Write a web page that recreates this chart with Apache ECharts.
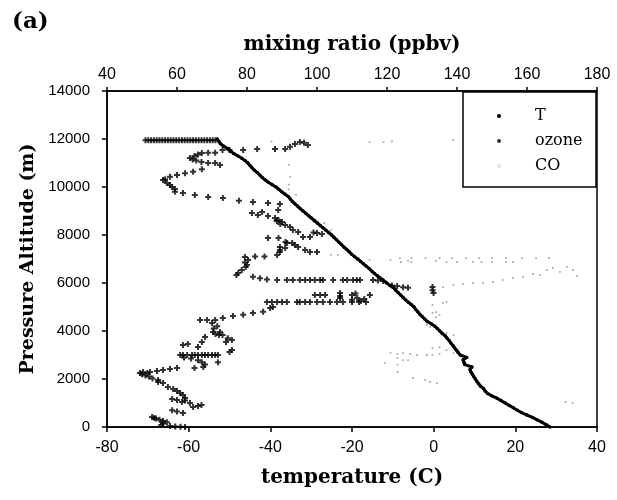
<!DOCTYPE html>
<html><head><meta charset="utf-8">
<script src="https://cdn.jsdelivr.net/npm/echarts@6/dist/echarts.min.js"></script>
<style>html,body{margin:0;padding:0;background:#fff}#c{width:617px;height:500px}</style>
</head><body><div id="c"></div>
<script>
// Tick labels / axis ranges
const tempTicks = [-80, -60, -40, -20, 0, 20, 40];
const mixTicks = [40, 60, 80, 100, 120, 140, 160, 180];
const altTicks = [0, 2000, 4000, 6000, 8000, 10000, 12000, 14000];

// Temperature profile: [temperature C, altitude m]
const tempProfile = [
  [28.5,0],[27.5,100],[26.5,200],[25.3,300],[24.2,400],[22.8,500],[21.5,600],[20.5,700],[19.5,800],[18.5,900],
  [17.5,1000],[16.5,1100],[15.5,1200],[14.2,1300],[13.2,1400],[12.6,1500],[12.2,1600],[11.5,1700],[11,1800],[10.6,1900],
  [10.2,2000],[9.8,2100],[9.5,2200],[9.1,2300],[8.9,2400],[9.4,2500],[7.6,2600],[7.4,2700],[7.2,2800],[8.1,2900],
  [6.5,3000],[6,3100],[5.6,3200],[5.1,3300],[4.7,3400],[4.2,3500],[3.8,3600],[3.3,3700],[2.8,3800],[2.1,3900],
  [1.5,4000],[0.9,4100],[0.3,4200],[-0.6,4300],[-1.6,4400],[-2.2,4500],[-2.8,4600],[-3.4,4700],[-3.9,4800],[-4.4,4900],
  [-4.8,5000],[-5.5,5100],[-6.2,5200],[-6.9,5300],[-7.5,5400],[-8.1,5500],[-8.7,5600],[-9.3,5700],[-9.8,5800],[-10.7,5900],
  [-11.5,6000],[-12.3,6100],[-13,6200],[-13.8,6300],[-14.5,6400],[-15.2,6500],[-15.8,6600],[-16.5,6700],[-17.2,6800],[-17.9,6900],
  [-18.6,7000],[-19.4,7100],[-20.1,7200],[-20.7,7300],[-21.3,7400],[-22,7500],[-22.6,7600],[-23.2,7700],[-23.8,7800],[-24.4,7900],
  [-25,8000],[-25.7,8100],[-26.4,8200],[-27.1,8300],[-27.8,8400],[-28.5,8500],[-29.2,8600],[-29.9,8700],[-30.6,8800],[-31.3,8900],
  [-32,9000],[-32.7,9100],[-33.3,9200],[-34,9300],[-34.6,9400],[-35.1,9500],[-35.6,9600],[-36.4,9700],[-37.2,9800],[-37.9,9900],
  [-38.6,10000],[-39.6,10100],[-40.5,10200],[-41.3,10300],[-42,10400],[-42.6,10500],[-43.2,10600],[-43.9,10700],[-44.5,10800],[-45,10900],
  [-45.5,11000],[-46.2,11100],[-47,11200],[-48,11300],[-49,11400],[-49.8,11500],[-50.5,11600],[-51.4,11700],[-52.2,11800],[-52.6,11900],
  [-53,12000]
];

// Ozone mixing ratio: [ppbv, altitude m]
const ozone = [
  [51,11950],[51.8,11950],[52.6,11950],[53.4,11950],[54.2,11950],[55,11950],[55.8,11950],[56.6,11950],[57.4,11950],[58.2,11950],
  [59,11950],[59.8,11950],[60.6,11950],[61.4,11950],[62.2,11950],[63,11950],[63.8,11950],[64.6,11950],[65.4,11950],[66.2,11950],
  [67,11950],[67.8,11950],[68.6,11950],[69.4,11950],[70.2,11950],[71,11950],
  [73,11540],[75,11540],[78.9,11540],[82.9,11580],[88,11580],
  [90.9,11580],[92.3,11680],[93.7,11790],[95.1,11875],[96.3,11845],[97.4,11750],
  [67.1,11420],[66,11350],[65,11290],[63.7,11210],[64.5,11150],[65.5,11100],[67,11040],[68.9,11430],[70.9,11430],
  [68.9,11000],[70.9,11000],[72.3,10920],
  [67.1,10740],[64.6,10640],[62.3,10570],[60,10500],[58,10430],[56.6,10320],[56,10290],
  [57.1,10170],[58,10080],[58.6,10000],[59.4,9920],[59.4,9800],
  [61.7,9750],[65.1,9670],[68.9,9580],[73.1,9540],[77.7,9430],[81.7,9375],[86,9330],[89.4,9290],
  [88.9,9040],[81.4,8920],[83.1,8830],[84.3,8960],[86,8790],
  [88,8710],[89,8620],[90,8540],[89.5,8460],[90.9,8420],[88.5,8580],
  [92.3,8330],[93.1,8210],[94.6,8125],[96,7920],[98,7920],[100,8080],[101.4,8040],[99,8100],
  [86,7875],[89,7875],
  [91.4,7670],[92.9,7670],[93.7,7580],[91,7710],[94.6,7500],
  [89.4,7500],[89.4,7375],[88.6,7170],[90.9,7460],[89.4,7290],
  [96.6,7375],[98,7290],[100,7290],
  [85,7100],[82.3,7100],
  [79.4,7080],[80.3,6960],[79.4,6850],[80,6750],[79.6,6670],[78.5,6540],[77.5,6420],[77,6330],
  [81.7,6260],[83.7,6200],[85.7,6150],[88.6,6125],[91.4,6125],[93.1,6125],[95.1,6125],[96.6,6125],[98,6125],[99.4,6125],
  [100.9,6125],[101.7,6125],[104.6,6125],[107.4,6125],[108.6,6125],[110.3,6125],[111.4,6125],[112.3,6125],[116,6125],[117.4,6100],
  [118.9,6080],[121.4,5900],[122.9,5880],[124.6,5820],[126,5800],
  [133,5830],[133,5700],[133.3,5580],
  [99.4,5500],[100.9,5500],[102.3,5500],[106.6,5580],[106.6,5460],[106.6,5380],[110,5500],[111,5560],[115.1,5500],
  [110,5300],[111.5,5380],[112.5,5250],[113.5,5330],
  [85.7,5210],[87.1,5210],[88.6,5210],[90,5210],[91.4,5210],[94.3,5210],[95.1,5210],[96.6,5210],[98,5210],
  [100,5210],[101.7,5210],[103.7,5210],[105.7,5210],[107.4,5210],[110,5210],[112,5210],[114,5210],
  [86.6,4960],[87.4,5000],
  [84.6,4800],[81.7,4750],[78.9,4680],[76,4625],[73.1,4540],[70.9,4460],[68.6,4460],[66.6,4460],
  [70,4330],[71.5,4200],[70.5,4100],[72.3,3960],[71,3870],[72,3830],
  [73,3830],[74.5,3700],[75.7,3620],[74,3540],
  [75,3125],[75.7,3210],
  [61.7,3420],[63.1,3460],[66,3330],[67.1,3540],[68,3750],[70.3,3960],
  [60.9,3000],[61.7,3000],[62.9,3000],[64.3,3000],[65.1,3000],[66,3000],[67.1,3000],[68,3000],[68.9,3000],[70,3000],[70.9,3000],[71.7,3000],
  [62,2900],[64,2850],[66,2780],[65,2460],[67.1,2700],[68,2600],[67.5,2500],[71.7,2700],
  [60,2460],[58,2420],[56,2380],[54.3,2330],[52.3,2290],[50.3,2290],[49.4,2250],
  [50,2200],[51,2150],[52,2100],[53,2020],[54.6,1960],[51.5,2250],
  [54.6,1875],[56,1830],[57.4,1670],[58.9,1580],[60,1500],[60.9,1420],[61.7,1330],[62.3,1210],[61.4,1040],[58.6,1170],[60,1125],
  [63.7,1000],[64.6,830],[66,875],[67,920],[62.3,1100],
  [58.6,700],[60,650],[61.7,580],
  [52.9,420],[54,350],[55,300],[56,250],[57.1,200],[56,150],[55.5,80],[53.5,380],
  [58,40],[59.5,20],[61,10],[62.3,0]
];

// CO mixing ratio: [ppbv, altitude m]
const co = [
  [87,11900],[115,11870],[119,11870],[121.4,11900],[138.9,11950],
  [92,10920],[92.3,10420],[92,10100],[92,9900],
  [92,9580],[94,9670],[99,8540],[102,8500],[101,8350],[104,8200],[104,7170],[106,7170],
  [115,6960],[121,6960],[126,6920],[134,6920],
  [124,6875],[127,6875],[137,6875],[140,6875],[144.6,6875],[147,6875],[150,6875],[154,6875],[156,6875],
  [123.7,7040],[127,7040],[131,7040],[135,7040],[138.6,7040],[142.6,7040],[146.3,7040],[150,7040],[154,7040],[158.6,7040],[162.6,7040],[166.3,7040],
  [136,5830],[139,5920],[141.7,5960],[144.6,6000],[147.4,6000],[150.3,6040],[153,6125],[156,6210],[158.9,6250],[161.7,6375],
  [163.7,6330],[165.7,6540],[167.4,6625],[169.4,6460],[171.4,6670],[173.1,6540],[174.3,6290],
  [133,5080],[136,5170],[137,5210],[133,4750],[134,4790],[135,4670],[134,4580],
  [131.4,4250],[132.3,4170],[137,3920],[139,3830],
  [133,3290],[135,3330],[137,3210],[139,3080],
  [121,3080],[123,3040],[124.6,3080],[126.6,3040],[128.6,3000],[131.4,3000],[133,3000],[135,3040],
  [119.4,2670],[123,2875],[123,2600],[123,2290],[124.6,2790],[126,2790],
  [127.4,2040],[130.9,1960],[132.3,1875],[134.3,1830],
  [171,1040],[173,1000]
];

const chart = echarts.init(document.getElementById('c'));
const serif = '"DejaVu Serif","Liberation Serif",serif';
const narrow = '"Liberation Sans Narrow","Liberation Sans",Arial,sans-serif';
const plus = 'path://M2,0H4V2H6V4H4V6H2V4H0V2H2Z';

chart.setOption({
  animation: false,
  backgroundColor: '#fff',
  title: {
    text: '(a)', left: 7, top: 6,
    textStyle: { fontFamily: serif, fontWeight: 'bold', fontSize: 23, color: '#000' }
  },
  grid: { left: 107, right: 20, top: 91, bottom: 73, show: true, borderColor: '#000', borderWidth: 1.5, backgroundColor: 'transparent' },
  legend: {
    orient: 'vertical', left: 492, top: 103, itemGap: 9, itemWidth: 10, itemHeight: 4, z: 10,
    textStyle: { fontFamily: serif, fontSize: 16, color: '#000', padding: [0, 0, 0, 26] },
    data: [
      { name: 'T', icon: 'circle', itemStyle: { color: '#000' } },
      { name: 'ozone', icon: 'circle', itemStyle: { color: '#000' } },
      { name: 'CO', icon: 'circle', itemStyle: { color: '#ddd' } }
    ]
  },
  graphic: [{
    type: 'rect', z: 5, shape: { x: 463, y: 92, width: 133, height: 95 },
    style: { fill: '#fff', stroke: '#000', lineWidth: 1.5 }
  }],
  xAxis: [{
    type: 'value', position: 'bottom', min: tempTicks[0], max: tempTicks[tempTicks.length - 1], interval: 20,
    name: 'temperature (C)', nameLocation: 'middle', nameGap: 41,
    nameTextStyle: { fontFamily: serif, fontWeight: 'bold', fontSize: 20, color: '#000' },
    axisLine: { onZero: false, lineStyle: { color: '#000', width: 1.5 } },
    axisTick: { inside: false, length: 5, lineStyle: { color: '#000', width: 1.5 } },
    axisLabel: { margin: 13, fontFamily: narrow, fontSize: 16, color: '#000' },
    splitLine: { show: false }
  }, {
    type: 'value', position: 'top', min: mixTicks[0], max: mixTicks[mixTicks.length - 1], interval: 20,
    name: 'mixing ratio (ppbv)', nameLocation: 'middle', nameGap: 36,
    nameTextStyle: { fontFamily: serif, fontWeight: 'bold', fontSize: 20, color: '#000' },
    axisLine: { onZero: false, lineStyle: { color: '#000', width: 1.5 } },
    axisTick: { inside: false, length: 4, lineStyle: { color: '#000', width: 1.5 } },
    axisLabel: { margin: 8, fontFamily: narrow, fontSize: 16, color: '#000' },
    splitLine: { show: false }
  }],
  yAxis: [{
    type: 'value', min: altTicks[0], max: altTicks[altTicks.length - 1], interval: 2000,
    name: 'Pressure Altitude (m)', nameLocation: 'middle', nameGap: 67, nameRotate: 90,
    nameTextStyle: { fontFamily: serif, fontWeight: 'bold', fontSize: 19, color: '#000' },
    axisLine: { show: true, onZero: false, lineStyle: { color: '#000', width: 1.5 } },
    axisTick: { show: true, inside: false, length: 5, lineStyle: { color: '#000', width: 1.5 } },
    axisLabel: { margin: 17, fontFamily: '"Liberation Sans",Arial,sans-serif', fontSize: 15, color: '#000',
      formatter: function (v) { return String(v); } },
    splitLine: { show: false }
  }],
  series: [
    {
      name: 'CO', type: 'scatter', xAxisIndex: 1, data: co, symbol: 'rect', symbolSize: 1.8,
      itemStyle: { color: '#9a9a9a' }, z: 1
    },
    {
      name: 'ozone', type: 'scatter', xAxisIndex: 1, data: ozone, symbol: plus, symbolSize: 6,
      itemStyle: { color: '#000' }, z: 3
    },
    {
      name: 'T', type: 'line', xAxisIndex: 0, data: tempProfile, showSymbol: true, symbol: 'circle', symbolSize: 3.5,
      lineStyle: { color: '#000', width: 3 }, itemStyle: { color: '#000' }, z: 4
    }
  ]
});
</script></body></html>
